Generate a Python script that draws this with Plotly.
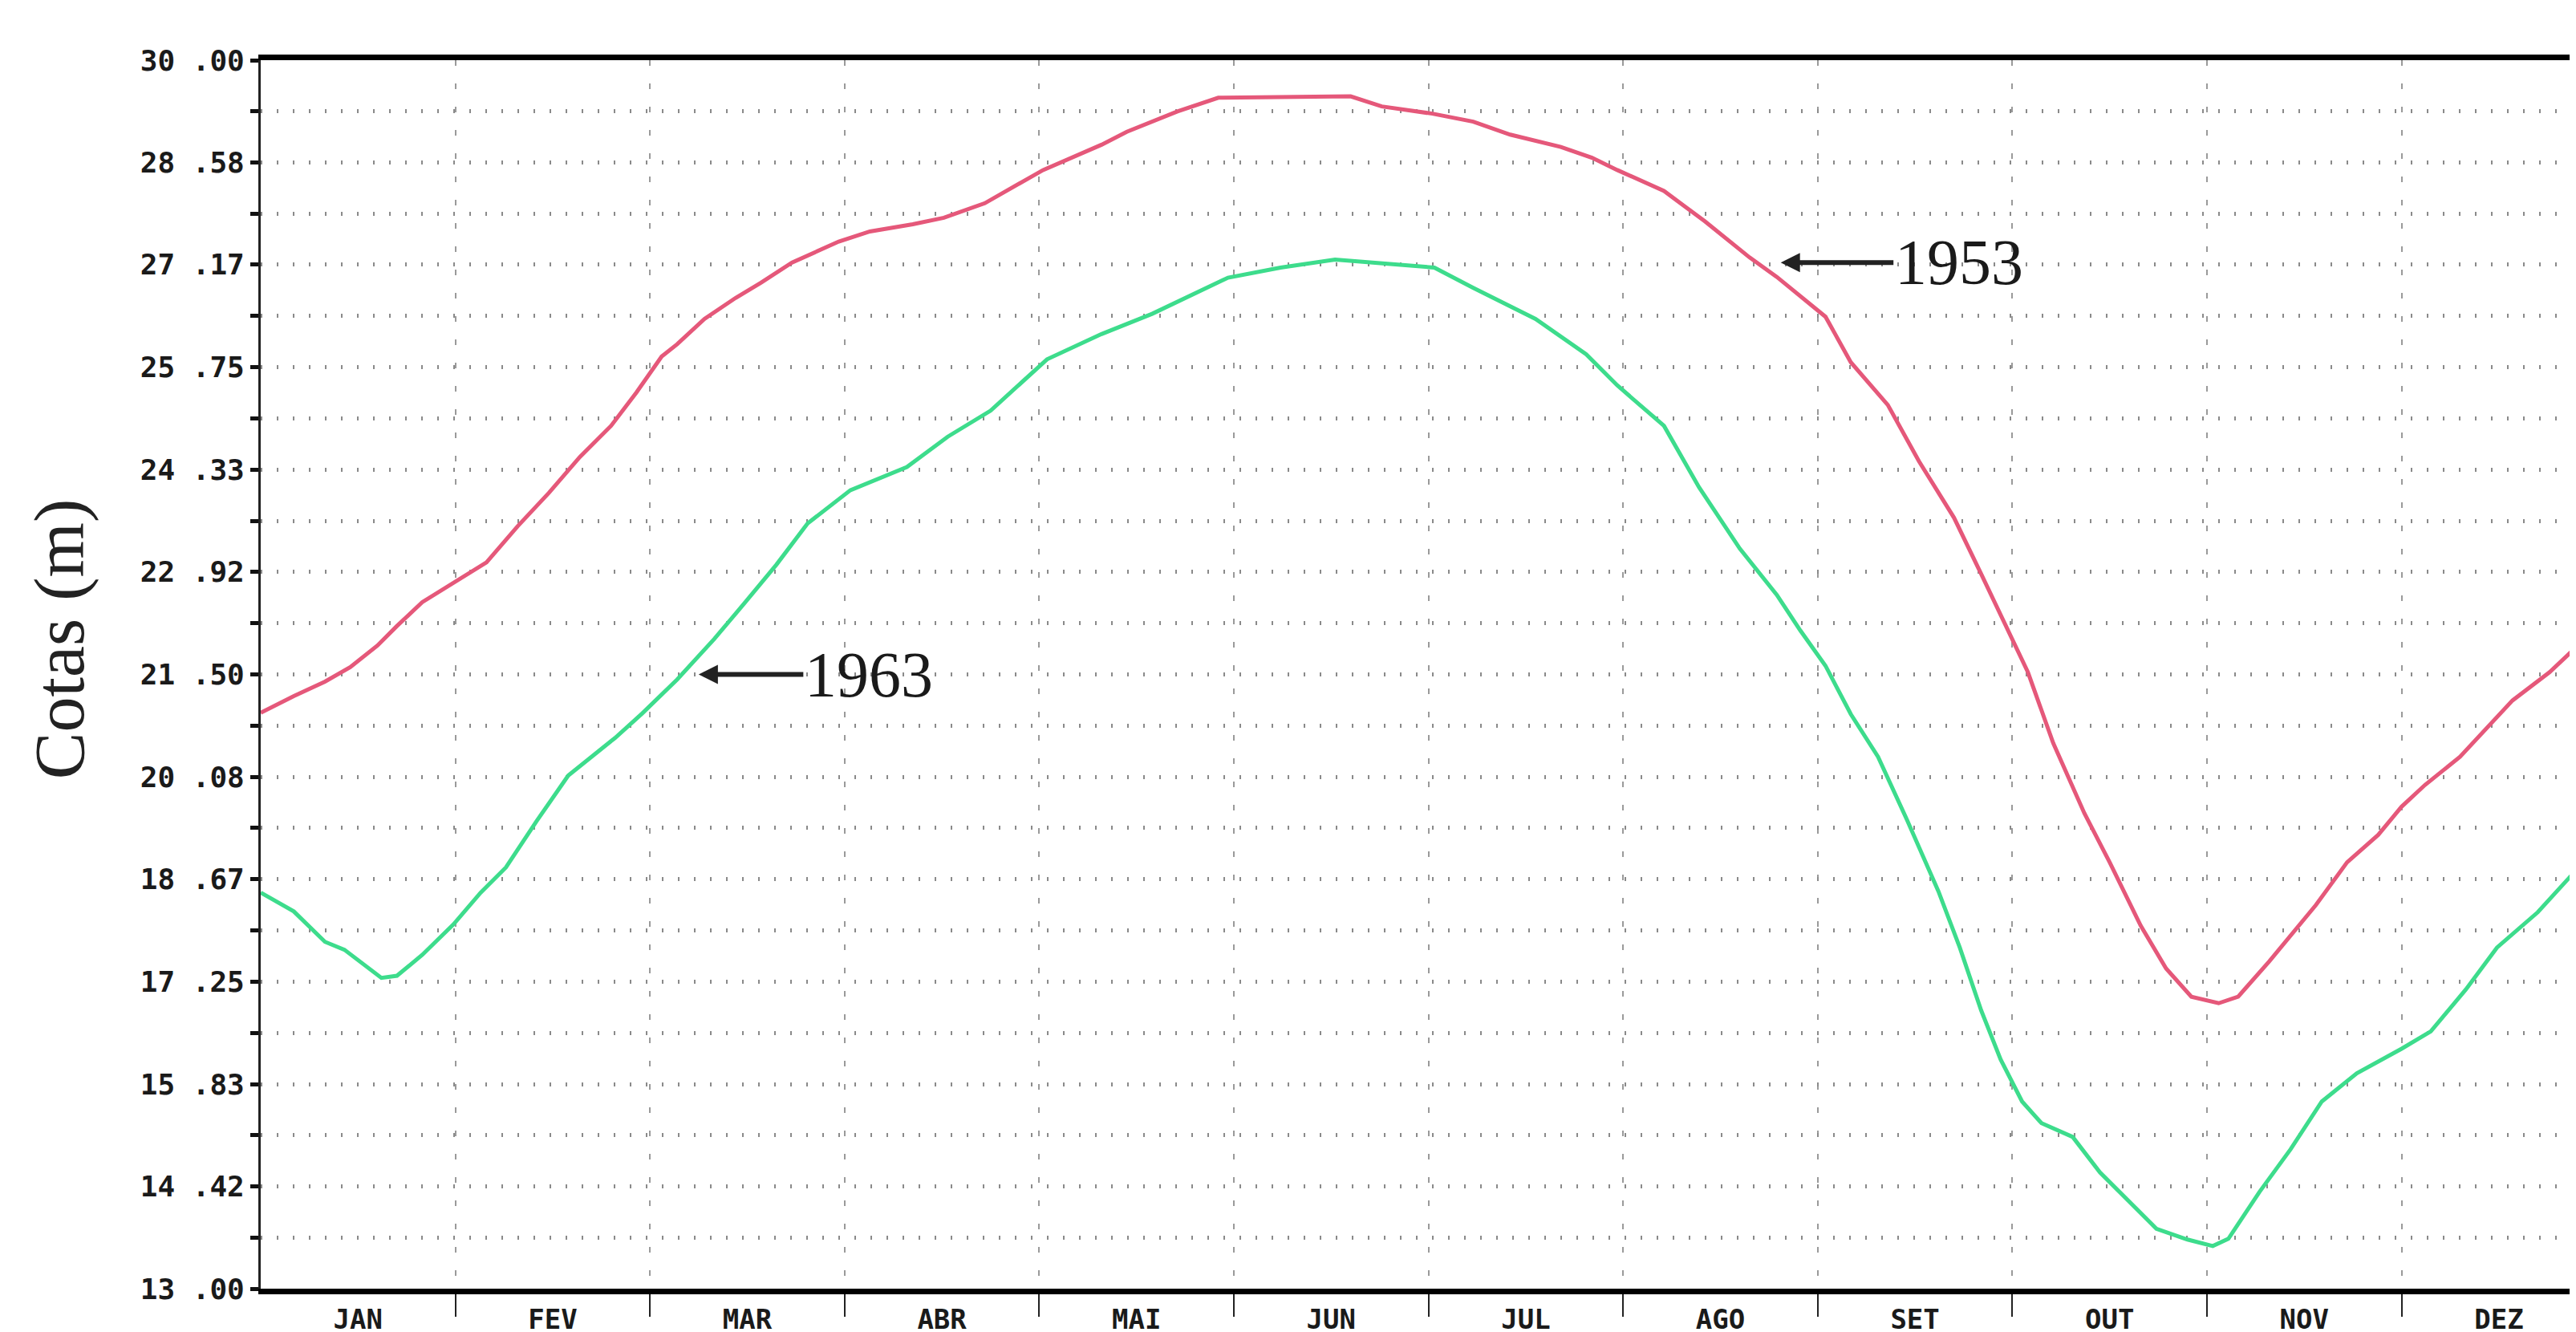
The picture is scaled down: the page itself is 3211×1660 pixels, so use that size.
import plotly.graph_objects as go

# ---------------- data ----------------
meses = ["JAN", "FEV", "MAR", "ABR", "MAI", "JUN", "JUL", "AGO", "SET", "OUT", "NOV", "DEZ"]

# x = position in months (0 = 1 Jan, 12 = 31 Dec)
x_1953 = [0.00, 0.17, 0.33, 0.46, 0.60, 0.70, 0.83, 1.00, 1.16, 1.32, 1.48, 1.64, 1.80, 1.93,
          2.06, 2.14, 2.28, 2.44, 2.57, 2.73, 2.97, 3.13, 3.35, 3.51, 3.72, 4.02, 4.32, 4.45,
          4.71, 4.92, 5.24, 5.60, 5.76, 6.02, 6.23, 6.42, 6.68, 6.84, 6.97, 7.21, 7.42, 7.65,
          7.79, 8.04, 8.17, 8.36, 8.52, 8.70, 8.84, 8.97, 9.08, 9.21, 9.37, 9.50, 9.66, 9.79,
          9.92, 10.06, 10.16, 10.32, 10.56, 10.72, 10.88, 11.00, 11.12, 11.30, 11.57, 11.76, 11.93]
y_1953 = [20.97, 21.20, 21.40, 21.60, 21.90, 22.17, 22.50, 22.78, 23.05, 23.55, 24.01, 24.51, 24.94, 25.40,
          25.90, 26.07, 26.42, 26.71, 26.92, 27.20, 27.49, 27.63, 27.73, 27.82, 28.02, 28.48, 28.83, 29.01,
          29.29, 29.48, 29.49, 29.50, 29.36, 29.26, 29.15, 28.97, 28.80, 28.65, 28.48, 28.19, 27.77, 27.27,
          27.00, 26.45, 25.82, 25.23, 24.45, 23.67, 22.89, 22.16, 21.53, 20.55, 19.58, 18.90, 18.02, 17.43,
          17.04, 16.95, 17.04, 17.53, 18.31, 18.90, 19.28, 19.67, 19.97, 20.36, 21.14, 21.53, 21.96]

x_1963 = [0.00, 0.17, 0.33, 0.43, 0.62, 0.70, 0.83, 0.99, 1.13, 1.26, 1.42, 1.58, 1.82, 1.96,
          2.14, 2.33, 2.49, 2.65, 2.81, 3.03, 3.32, 3.53, 3.75, 4.04, 4.32, 4.58, 4.97, 5.24,
          5.52, 5.62, 6.03, 6.23, 6.55, 6.81, 6.97, 7.21, 7.39, 7.60, 7.79, 7.91, 8.04, 8.17,
          8.31, 8.46, 8.62, 8.73, 8.84, 8.94, 9.05, 9.15, 9.31, 9.45, 9.63, 9.74, 9.90, 10.03,
          10.11, 10.27, 10.43, 10.59, 10.77, 11.00, 11.15, 11.33, 11.49, 11.70, 11.93]
y_1963 = [18.48, 18.22, 17.80, 17.69, 17.30, 17.33, 17.62, 18.04, 18.48, 18.83, 19.48, 20.10, 20.62, 20.96,
          21.43, 21.99, 22.50, 23.02, 23.59, 24.05, 24.37, 24.79, 25.15, 25.86, 26.21, 26.49, 26.99, 27.13,
          27.24, 27.22, 27.13, 26.85, 26.42, 25.93, 25.50, 24.94, 24.09, 23.24, 22.60, 22.11, 21.62, 20.95,
          20.36, 19.48, 18.50, 17.72, 16.85, 16.17, 15.59, 15.29, 15.10, 14.61, 14.12, 13.83, 13.68, 13.59,
          13.69, 14.34, 14.93, 15.59, 15.98, 16.32, 16.56, 17.14, 17.72, 18.21, 18.89]

y_ticks = [13.00, 14.42, 15.83, 17.25, 18.67, 20.08, 21.50, 22.92, 24.33, 25.75, 27.17, 28.58, 30.00]
y_ticktext = ["13 .00", "14 .42", "15 .83", "17 .25", "18 .67", "20 .08", "21 .50",
              "22 .92", "24 .33", "25 .75", "27 .17", "28 .58", "30 .00"]
y_half = [13 + (i + 0.5) * 17 / 12 for i in range(12)]

month_centers = [i + 0.5 for i in range(12)]
month_bounds = [i for i in range(1, 12)]

# ---------------- figure ----------------
W, H = 3211, 1660
ML, MR, MT, MB = 317, 0, 67, 62
x_end = (W - ML - MR) / 242.6

fig = go.Figure()
fig.add_trace(go.Scatter(x=x_1953, y=y_1953, mode="lines", name="1953",
                         line=dict(color="#e5587a", width=5)))
fig.add_trace(go.Scatter(x=x_1963, y=y_1963, mode="lines", name="1963",
                         line=dict(color="#3ddc8c", width=5)))

mono = "DejaVu Sans Mono"

fig.update_layout(
    width=W, height=H,
    margin=dict(l=ML, r=MR, t=MT, b=MB),
    paper_bgcolor="white", plot_bgcolor="white",
    showlegend=False,
    xaxis=dict(
        range=[0, x_end],
        tickmode="array", tickvals=month_centers, ticktext=meses,
        ticks="", ticklabelstandoff=2,
        tickfont=dict(family=mono, size=34, color="#1a1a1a", weight="bold"),
        showgrid=False, zeroline=False,
        showline=True, linecolor="black", linewidth=7, mirror=True,
        minor=dict(tickmode="array", tickvals=month_bounds, ticks="outside",
                   ticklen=28, tickwidth=2, tickcolor="#222",
                   showgrid=True, gridcolor="#9a9a9a", gridwidth=2, griddash="7px,22px"),
    ),
    yaxis=dict(
        range=[13, 30],
        tickmode="array", tickvals=y_ticks, ticktext=y_ticktext,
        ticks="outside", ticklen=10, tickwidth=5, tickcolor="#111",
        tickfont=dict(family=mono, size=36, color="#1a1a1a", weight="bold"),
        showgrid=True, gridcolor="#8a8a8a", gridwidth=5, griddash="2px,18px",
        zeroline=False,
        showline=True, linecolor="#222", linewidth=3,
        minor=dict(tickmode="array", tickvals=y_half, ticks="outside",
                   ticklen=10, tickwidth=5, tickcolor="#111",
                   showgrid=True, gridcolor="#8a8a8a", gridwidth=5, griddash="2px,18px"),
    ),
)

serif = "Liberation Serif"
fig.add_annotation(text="Cotas (m)", xref="paper", yref="paper",
                   x=-0.0867, y=0.529, xanchor="center", yanchor="middle",
                   textangle=-90, showarrow=False,
                   font=dict(family=serif, size=88, color="#222"))

fig.add_annotation(text="1953", x=7.81, y=27.20, xref="x", yref="y",
                   showarrow=True, ax=222, ay=0, axref="pixel", ayref="pixel",
                   arrowhead=2, arrowsize=0.8, arrowwidth=6, arrowcolor="#222", standoff=0,
                   font=dict(family=serif, size=80, color="#1a1a1a"))
fig.add_annotation(text="1963", x=2.25, y=21.50, xref="x", yref="y",
                   showarrow=True, ax=212, ay=0, axref="pixel", ayref="pixel",
                   arrowhead=2, arrowsize=0.8, arrowwidth=6, arrowcolor="#222", standoff=0,
                   font=dict(family=serif, size=80, color="#1a1a1a"))

fig.write_html("out.html")
